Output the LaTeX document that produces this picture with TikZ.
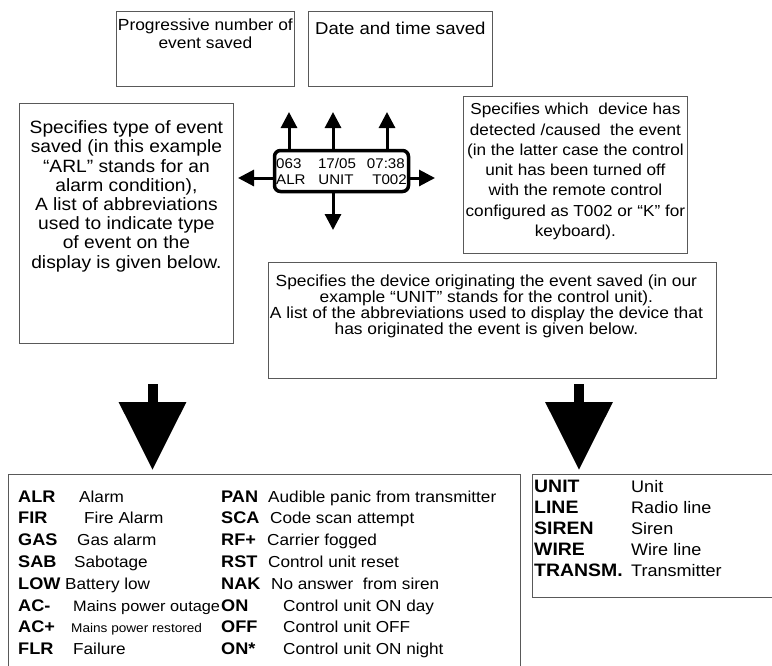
\documentclass[tikz,border=0pt]{standalone}
\usepackage{fontspec}
\setmainfont{Liberation Sans}[FakeStretch=1.08]
\usetikzlibrary{arrows.meta}

\begin{document}
\begin{tikzpicture}[
    x=1pt, y=-1pt,
    infobox/.style={rectangle, draw=black!65, line width=0.8pt, anchor=north west, inner sep=0pt},
    infotext/.style={anchor=north, align=center, inner sep=0pt},
    lcd/.style={rectangle, draw, line width=3.5pt, rounded corners=6pt, minimum width=134pt, minimum height=41pt},
    lcdtext/.style={inner sep=0pt, font=\fontsize{14}{14}\selectfont},
    pointer/.style={line width=3pt, -{Triangle[width=16pt, length=16pt]}},
    bigarrow/.style={line width=10pt, -{Triangle[width=65pt, length=68pt]}},
    abbr/.style={anchor=base west, inner sep=0pt, font=\bfseries},
    descr/.style={anchor=base west, inner sep=0pt}
  ]
    \useasboundingbox (0,0) rectangle (772,665);
    \clip (0,0) rectangle (772,665);

    % Explanation boxes
    \node[infobox, minimum width=178pt, minimum height=75pt] (numbox) at (116,11) {};
    \node[infotext, font=\fontsize{16.1}{18}\selectfont] (numtext) at ([yshift=-8pt]numbox.north) {Progressive number of\\event saved};
    \node[infobox, minimum width=184pt, minimum height=75pt] (datebox) at (308,11) {};
    \node[infotext, font=\fontsize{17.2}{18}\selectfont] (datetext) at ([yshift=-10.5pt]datebox.north) {Date and time saved};

    \node[infobox, minimum width=214pt, minimum height=240pt] (typebox) at (19,103) {};
    \node[infotext, font=\fontsize{17.8}{19.2}\selectfont] (typetext) at ([yshift=-17.5pt]typebox.north) {Specifies type of event\\saved (in this example\\“ARL” stands for an\\alarm condition),\\A list of abbreviations\\used to indicate type\\of event on the\\display is given below.};

    \node[infobox, minimum width=224pt, minimum height=157pt] (whobox) at (463,96) {};
    \node[infotext, font=\fontsize{15.9}{20.3}\selectfont] (whotext) at ([yshift=-7pt]whobox.north) {Specifies which \ device has\\detected /caused \ the event\\(in the latter case the control\\unit has been turned off\\with the remote control\\configured as T002 or “K” for\\keyboard).};

    \node[infobox, minimum width=448pt, minimum height=116pt] (devbox) at (268,262) {};
    \node[infotext, font=\fontsize{16.1}{16}\selectfont] (devtext) at ([xshift=-6pt, yshift=-12.5pt]devbox.north) {Specifies the device originating the event saved (in our\\example “UNIT” stands for the control unit).\\A list of the abbreviations used to display the device that\\has originated the event is given below.};

    % Display
    \node[lcd] (lcd) at (341.5,171) {};
    \node[lcdtext, anchor=base west] (num) at (276,168) {063};
    \node[lcdtext, anchor=base west] (type) at (276,184) {ALR};
    \node[lcdtext, anchor=base] (date) at (337,168) {17/05};
    \node[lcdtext, anchor=base] (dev) at (336,184) {UNIT};
    \node[lcdtext, anchor=base east] (time) at (405,168) {07:38};
    \node[lcdtext, anchor=base east] (who) at (407,184) {T002};

    \coordinate (upnum) at (289,112);
    \coordinate (update) at (333,112);
    \coordinate (uptime) at (387,112);
    \coordinate (lefttip) at (238,178);
    \coordinate (righttip) at (435,178);
    \coordinate (downtip) at (333,230);
    \foreach \tip in {upnum, update, uptime}
      \draw[pointer] (lcd.north -| \tip) -- (\tip);
    \draw[pointer] (lcd.west |- lefttip) -- (lefttip);
    \draw[pointer] (lcd.east |- righttip) -- (righttip);
    \draw[pointer] (lcd.south -| downtip) -- (downtip);

    % Big arrows
    \coordinate (evfrom) at (152.5,384);
    \coordinate (evto) at (152.5,470);
    \coordinate (devfrom) at (579,384);
    \coordinate (devto) at (579,470);
    \draw[bigarrow] (evfrom) -- (evto);
    \draw[bigarrow] (devfrom) -- (devto);

    % Event table
    \node[infobox, minimum width=512pt, minimum height=200pt] (evtable) at (8,474) {};
    \foreach \ab/\dx/\fs/\de [count=\i from 0] in {ALR/79/15.9/Alarm, FIR/84/15.9/Fire Alarm, GAS/77/15.9/Gas alarm, SAB/74/15.9/Sabotage, LOW/65/15.9/Battery low, AC-/73/15.1/Mains power outage, AC+/71/12.6/Mains power restored, FLR/73/15.9/Failure} {
      \node[abbr, font=\fontsize{16.8}{17}\selectfont\bfseries] (eva\i) at (18, 502+\i*21.8) {\ab};
      \node[descr, font=\fontsize{\fs}{\fs}\selectfont] (evd\i) at (\dx, 502+\i*21.8) {\de};
    }
    \foreach \ab/\dx/\de [count=\i from 0] in {PAN/268/Audible panic from transmitter, SCA/270/Code scan attempt, RF+/267/Carrier fogged, RST/268/Control unit reset, NAK/271/No answer \ from siren, ON/283/Control unit ON day, OFF/283/Control unit OFF, ON*/283/Control unit ON night} {
      \node[abbr, font=\fontsize{16.8}{17}\selectfont\bfseries] (evb\i) at (221, 502+\i*21.8) {\ab};
      \node[descr, font=\fontsize{15.9}{17}\selectfont] (eve\i) at (\dx, 502+\i*21.8) {\de};
    }

    % Device table
    \node[infobox, minimum width=260pt, minimum height=123pt] (devtable) at (532,474) {};
    \foreach \ab/\de [count=\i from 0] in {UNIT/Unit, LINE/Radio line, SIREN/Siren, WIRE/Wire line, TRANSM./Transmitter} {
      \node[abbr, font=\fontsize{18}{18}\selectfont\bfseries] (dva\i) at (534, 492+\i*21.2) {\ab};
      \node[descr, font=\fontsize{16.7}{18}\selectfont] (dvd\i) at (631, 492+\i*21.2) {\de};
    }
  \end{tikzpicture}
\end{document}
